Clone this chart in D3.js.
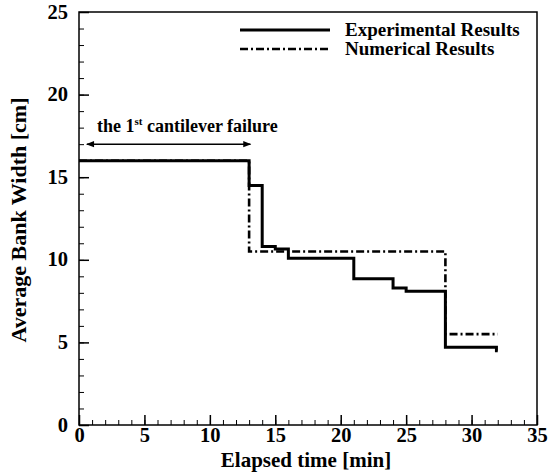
<!DOCTYPE html>
<html>
<head>
<meta charset="utf-8">
<script src="https://cdn.jsdelivr.net/npm/d3@7"></script>
<style>
  html, body { margin: 0; padding: 0; background: #fff; }
  #chart text { font-family: "Liberation Serif", "Times New Roman", Times, serif !important; font-weight: bold; fill: #000; }
</style>
</head>
<body>
<svg id="chart" width="549" height="473"></svg>
<script>
// Bank width over time: step series
const expTime  = [0, 13, 13, 14, 14, 15, 15, 16, 16, 21, 21, 24, 24, 25, 25, 28, 28, 31.9, 31.9, 32];
const expWidth = [16, 16, 14.5, 14.5, 10.8, 10.8, 10.65, 10.65, 10.1, 10.1, 8.85, 8.85, 8.3, 8.3, 8.1, 8.1, 4.7, 4.7, 4.5, 4.5];
const numTime  = [0, 13, 13, 28, 28, 32];
const numWidth = [16, 16, 10.5, 10.5, 5.5, 5.5];
const xTicks = [0, 5, 10, 15, 20, 25, 30, 35];
const yTicks = [0, 5, 10, 15, 20, 25];
const legendLabels = ["Experimental Results", "Numerical Results"];

const svg = d3.select("#chart");
const L = 79, R = 537, T = 12, B = 425;

const x = d3.scaleLinear().domain([0, 35]).range([L, R]);
const y = d3.scaleLinear().domain([0, 25]).range([B, T]);

// inward minor ticks every unit
const xMinor = d3.range(0, 36, 1);
const yMinor = d3.range(0, 26, 1);

svg.append("g").attr("transform", `translate(0,${B})`)
  .call(d3.axisBottom(x).tickValues(xMinor).tickSize(-5).tickFormat(""))
  .call(g => g.select(".domain").remove())
  .selectAll("line").attr("stroke", "#000").attr("stroke-width", 1);
svg.append("g").attr("transform", `translate(0,${B})`)
  .call(d3.axisBottom(x).tickValues(xTicks).tickSize(-10).tickFormat(d3.format("d")))
  .call(g => g.select(".domain").remove())
  .call(g => g.selectAll("line").attr("stroke", "#000").attr("stroke-width", 1.5))
  .call(g => g.selectAll("text").attr("font-size", 20.5).attr("y", 17).attr("dy", null));

svg.append("g").attr("transform", `translate(${L},0)`)
  .call(d3.axisLeft(y).tickValues(yMinor).tickSize(-5).tickFormat(""))
  .call(g => g.select(".domain").remove())
  .selectAll("line").attr("stroke", "#000").attr("stroke-width", 1);
svg.append("g").attr("transform", `translate(${L},0)`)
  .call(d3.axisLeft(y).tickValues(yTicks).tickSize(-10).tickFormat(d3.format("d")))
  .call(g => g.select(".domain").remove())
  .call(g => g.selectAll("line").attr("stroke", "#000").attr("stroke-width", 1.5))
  .call(g => g.selectAll("text").attr("font-size", 20.5).attr("x", -11).attr("dy", "0.3em"));

// frame
svg.append("rect").attr("x", L).attr("y", T).attr("width", R - L).attr("height", B - T)
  .attr("fill", "none").attr("stroke", "#000").attr("stroke-width", 1.5);

const line = d3.line().x(d => x(d[0])).y(d => y(d[1]));

svg.append("path")
  .datum(numTime.map((t, i) => [t, numWidth[i]]))
  .attr("d", line).attr("fill", "none").attr("stroke", "#000")
  .attr("stroke-width", 2.6).attr("stroke-dasharray", "8,3,2,3");

svg.append("path")
  .datum(expTime.map((t, i) => [t, expWidth[i]]))
  .attr("d", line).attr("fill", "none").attr("stroke", "#000")
  .attr("stroke-width", 3);

// legend
const leg = svg.append("g");
const legLineY = [30, 49], legTextY = [36, 55];
[0, 1].forEach(i => {
  leg.append("line").attr("x1", 240).attr("x2", 330).attr("y1", legLineY[i]).attr("y2", legLineY[i])
    .attr("stroke", "#000").attr("stroke-width", i === 0 ? 3 : 2.6)
    .attr("stroke-dasharray", i === 0 ? null : "8,3,2,3");
  leg.append("text").attr("x", 345).attr("y", legTextY[i]).attr("font-size", 19).text(legendLabels[i]);
});

// annotation: first cantilever failure
const defs = svg.append("defs");
defs.append("marker").attr("id", "ah").attr("viewBox", "0 0 10 10")
  .attr("refX", 9).attr("refY", 5).attr("markerWidth", 16).attr("markerHeight", 8)
  .attr("markerUnits", "userSpaceOnUse").attr("orient", "auto-start-reverse")
  .append("path").attr("d", "M0,1 L10,5 L0,9 Z").attr("fill", "#000");

svg.append("line").attr("x1", x(0.6)).attr("x2", x(13.1)).attr("y1", y(17.0)).attr("y2", y(17.0))
  .attr("stroke", "#000").attr("stroke-width", 1.5)
  .attr("marker-start", "url(#ah)").attr("marker-end", "url(#ah)");

const ann = svg.append("text").attr("x", 97).attr("y", 131.5).attr("font-size", 18);
ann.append("tspan").text("the 1");
ann.append("tspan").attr("dy", -7).attr("font-size", 11).text("st");
ann.append("tspan").attr("dy", 7).text(" cantilever failure");

// axis titles
svg.append("text").attr("x", 306).attr("y", 467).attr("text-anchor", "middle")
  .attr("font-size", 21).text("Elapsed time [min]");
svg.append("text").attr("transform", `translate(26,220) rotate(-90)`)
  .attr("text-anchor", "middle").attr("font-size", 22).text("Average Bank Width [cm]");
</script>
</body>
</html>
